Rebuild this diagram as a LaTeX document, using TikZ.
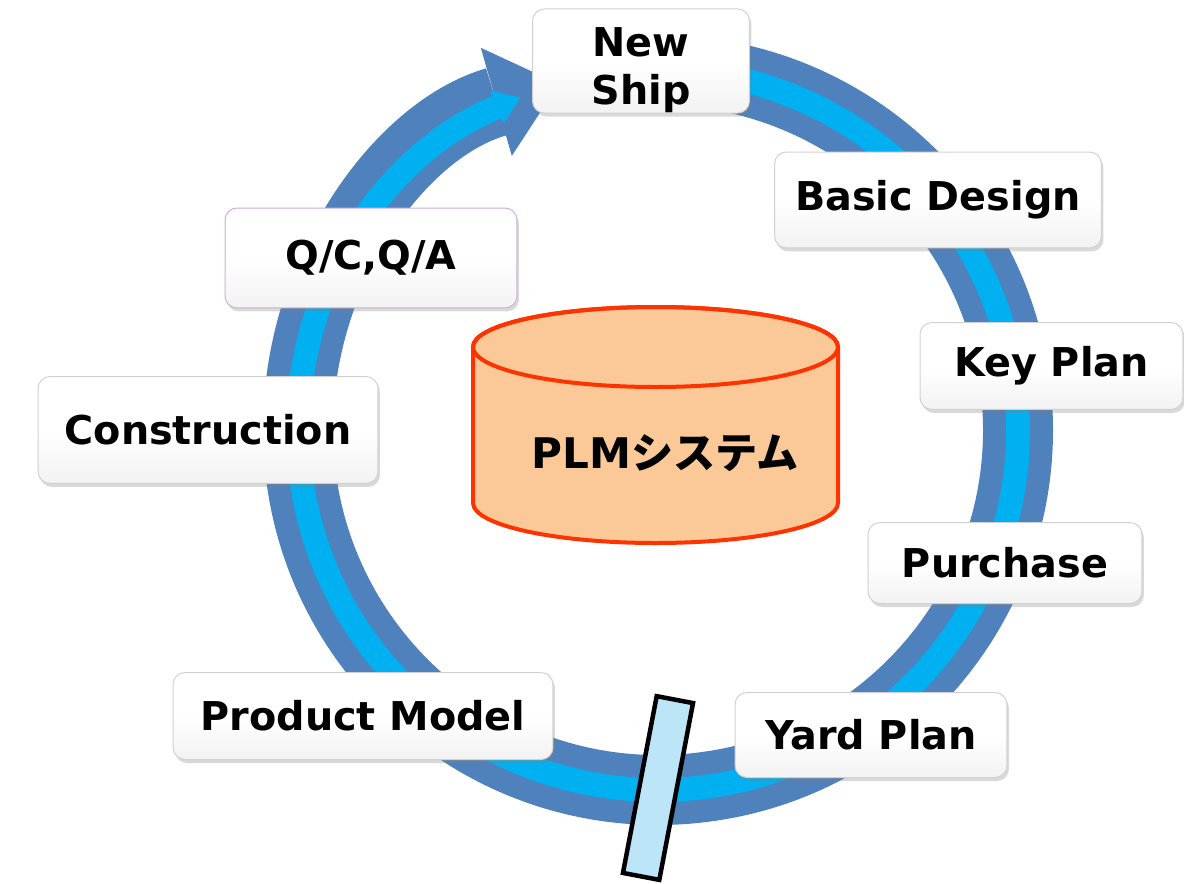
\documentclass[tikz,border=0pt]{standalone}
\usepackage{fontspec}
\setmainfont{DejaVu Sans}
\newfontfamily\jpfont{Noto Sans CJK JP}
\usepackage{tikz}
\usetikzlibrary{arrows.meta}
\usetikzlibrary{shadows}
\definecolor{ringblue}{RGB}{79,129,189}
\definecolor{ringcyan}{RGB}{0,176,240}
\definecolor{dbfill}{RGB}{251,201,151}
\definecolor{dbline}{RGB}{255,51,0}
\definecolor{cutfill}{RGB}{189,229,248}
\definecolor{qcline}{RGB}{205,175,215}

\tikzset{
  stage/.style={rectangle, rounded corners=0.24cm, draw=black!18, line width=0.02cm,
    top color=white, bottom color=black!5, middle color=white, inner sep=0pt, align=center,
    font=\bfseries\fontsize{22.6}{27.5}\selectfont,
    drop shadow={shadow xshift=0.04cm, shadow yshift=-0.07cm, opacity=0.3}},
}

\begin{document}
\begin{tikzpicture}[x=0.02cm, y=-0.02cm]
    \useasboundingbox (0,0) rectangle (1184,883);
    % the cycle
    \coordinate (hub) at (658,430);
    \draw[ringblue, line width=1.4cm, -{Triangle[length=1.3cm, width=2.25cm, line width=0pt]}]
        (hub) ++(-95:360) arc[start angle=-95, end angle=254, radius=360];
    \draw[ringcyan, line width=0.48cm, -{Triangle[length=0.5cm, width=0.7cm, line width=0pt]}]
        (hub) ++(-95:360) arc[start angle=-95, end angle=247.5, radius=360];
    \path node (cut) at (658,788) [rotate=-10.8, draw=black, line width=0.09cm, fill=cutfill,
        minimum width=0.74cm, minimum height=3.6cm, inner sep=0pt] {};
    % the database
    \filldraw[draw=dbline, fill=dbfill, line width=0.08cm]
        (473,347) -- (473,503) arc[start angle=180, end angle=0, x radius=182.5, y radius=40]
        -- (838,347) arc[start angle=0, end angle=-180, x radius=182.5, y radius=40] -- cycle;
    \draw[dbline, line width=0.08cm] (655.5,347) ellipse [x radius=182.5, y radius=40];
    \path node (plm) at (665,453) [font=\bfseries\fontsize{24}{29}\selectfont] {PLM{\jpfont システム}};
    % the stages
    \path
        node (newship) at (641,61) [stage, minimum width=4.34cm, minimum height=2cm] {\rule{0pt}{0.95cm}New\\Ship}
        node (basic) at (938,200) [stage, minimum width=6.54cm, minimum height=1.92cm] {Basic Design}
        node (keyplan) at (1051.5,366) [stage, minimum width=5.26cm, minimum height=1.74cm] {Key Plan}
        node (purchase) at (1005,563) [stage, minimum width=5.48cm, minimum height=1.62cm] {Purchase}
        node (yard) at (871,735) [stage, minimum width=5.44cm, minimum height=1.7cm] {Yard Plan}
        node (product) at (363,716) [stage, minimum width=7.6cm, minimum height=1.74cm] {Product Model}
        node (construction) at (208,430) [stage, minimum width=6.8cm, minimum height=2.14cm] {Construction}
        node (qcqa) at (371,258) [stage, draw=qcline, minimum width=5.84cm, minimum height=2cm] {Q/C,Q/A};
\end{tikzpicture}
\end{document}
